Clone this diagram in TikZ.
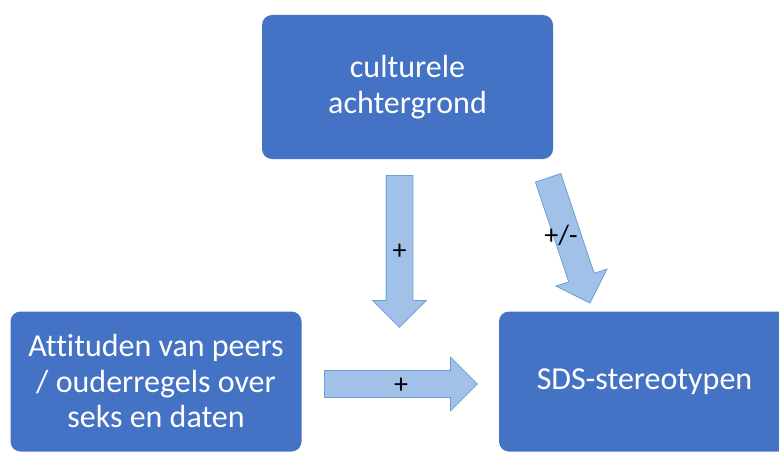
\documentclass[tikz,border=0pt]{standalone}
\usepackage{fontspec}
\setmainfont{Carlito}[Ligatures=CommonOff]
\usetikzlibrary{positioning, shapes.arrows, calc}
\definecolor{boxblue}{HTML}{4472C4}
\definecolor{arrowfill}{HTML}{A2C1E8}
\definecolor{arrowline}{HTML}{6A9FD8}

\begin{document}
\begin{tikzpicture}[x=1pt, y=1pt, on grid,
    factor/.style={rectangle, rounded corners=10pt, fill=boxblue, text=white,
        minimum width=291pt, minimum height=140pt, align=center,
        font=\fontsize{32}{35.5}\selectfont},
    effect/.style={single arrow, draw=arrowline, fill=arrowfill, line width=0.8pt,
        inner xsep=0pt, inner ysep=13pt, single arrow head extend=13.5pt,
        single arrow tip angle=90, anchor=tail},
    sign/.style={font=\fontsize{28}{28}\selectfont}]
    \useasboundingbox (0,0) rectangle (779,451);

    \node[factor, minimum height=144pt] (cult) at (407.5,364) {culturele\\achtergrond};
    \node[factor] (peers) [below left=294.5pt and 251.5pt of cult] {Attituden van peers\\/ ouderregels over\\seks en daten};
    \node[factor] (sds) [below right=294.5pt and 237pt of cult] {SDS-stereotypen};

    \node[effect, minimum height=152pt, rotate=-90] (down) at (399.5,276) {};
    \node[effect, minimum height=153pt] (right) at (324,67) {};
    \node[effect, minimum height=132pt, rotate=-71.5] (diag) at (548,273.5) {};

    \node[sign] at ($(down.tail)!0.5!(down.tip)$) {+};
    \node[sign] at ($(right.tail)!0.5!(right.tip)+(0,-2)$) {+};
    \node[sign] at ($(diag.tail)!0.5!(diag.tip)+(-8,5)$) {+/-};

\end{tikzpicture}
\end{document}
